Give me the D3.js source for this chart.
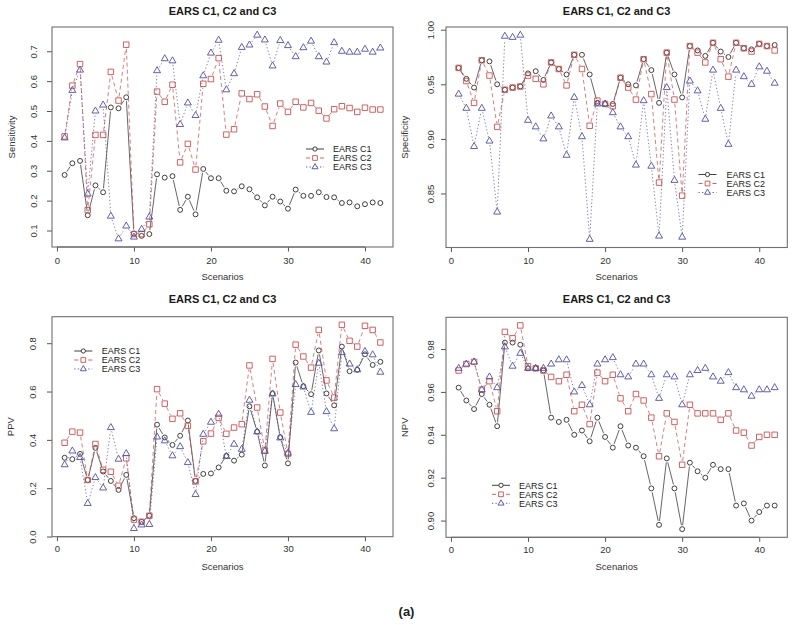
<!DOCTYPE html>
<html><head><meta charset="utf-8">
<script src="https://cdn.jsdelivr.net/npm/d3@7"></script>
<style>
html,body{margin:0;padding:0;background:#fff;}
text{font-family:"Liberation Sans",Arial,sans-serif;}
</style></head>
<body><svg id="c" width="794" height="625"></svg>
<script>
// ---- data ----
const scenarios = [1,2,3,4,5,6,7,8,9,10,11,12,13,14,15,16,17,18,19,20,21,22,23,24,25,26,27,28,29,30,31,32,33,34,35,36,37,38,39,40,41,42];
const seriesNames = ["EARS C1","EARS C2","EARS C3"];
const xTicks = [0,10,20,30,40];

const sensC1 = [0.286,0.325,0.333,0.151,0.251,0.228,0.512,0.509,0.546,0.090, 0.082,0.088,0.288,0.277,0.282,0.169,0.213,0.154,0.306,0.275, 0.275,0.233,0.231,0.248,0.238,0.211,0.184,0.213,0.197,0.173, 0.237,0.216,0.216,0.228,0.212,0.211,0.192,0.194,0.181,0.188,0.194,0.192];
const sensC2 = [0.415,0.585,0.657,0.168,0.420,0.420,0.631,0.535,0.722,0.088, 0.088,0.121,0.565,0.531,0.588,0.328,0.390,0.304,0.591,0.607, 0.677,0.421,0.439,0.559,0.540,0.556,0.515,0.450,0.525,0.497, 0.531,0.512,0.527,0.501,0.475,0.506,0.516,0.510,0.497,0.511,0.505,0.505];
const sensC3 = [0.410,0.569,0.637,0.222,0.500,0.520,0.148,0.072,0.115,0.078, 0.104,0.145,0.635,0.675,0.668,0.455,0.527,0.485,0.618,0.694, 0.737,0.571,0.625,0.713,0.721,0.754,0.738,0.651,0.736,0.719, 0.682,0.712,0.734,0.682,0.664,0.729,0.700,0.697,0.697,0.707,0.697,0.711];
const sensTicks = [0.1,0.2,0.3,0.4,0.5,0.6,0.7];
const sensTickLabels = ["0.1","0.2","0.3","0.4","0.5","0.6","0.7"];

const specC1 = [0.965,0.955,0.947,0.972,0.971,0.950,0.945,0.947,0.948,0.960, 0.962,0.954,0.970,0.964,0.959,0.977,0.977,0.959,0.933,0.932, 0.932,0.956,0.950,0.949,0.973,0.963,0.933,0.979,0.959,0.938, 0.985,0.981,0.976,0.988,0.980,0.975,0.988,0.983,0.982,0.987,0.985,0.986];
const specC2 = [0.965,0.953,0.933,0.972,0.958,0.911,0.945,0.947,0.948,0.958, 0.955,0.950,0.970,0.964,0.949,0.977,0.964,0.912,0.935,0.932, 0.930,0.956,0.947,0.936,0.973,0.941,0.860,0.979,0.936,0.848, 0.985,0.979,0.970,0.988,0.973,0.957,0.988,0.983,0.980,0.987,0.985,0.981];
const specC3 = [0.941,0.928,0.893,0.928,0.898,0.833,0.994,0.993,0.995,0.917, 0.911,0.900,0.921,0.911,0.885,0.938,0.902,0.808,0.932,0.932, 0.924,0.911,0.902,0.876,0.935,0.875,0.811,0.947,0.862,0.810, 0.953,0.944,0.918,0.963,0.928,0.895,0.963,0.957,0.950,0.966,0.962,0.951];
const specTicks = [0.85,0.90,0.95,1.00];
const specTickLabels = ["0.85","0.90","0.95","1.00"];

const ppvC1 = [0.326,0.320,0.342,0.234,0.367,0.269,0.230,0.193,0.255,0.076, 0.061,0.086,0.463,0.410,0.379,0.417,0.480,0.230,0.259,0.261, 0.286,0.334,0.314,0.339,0.539,0.434,0.294,0.592,0.411,0.303, 0.720,0.622,0.589,0.770,0.592,0.543,0.786,0.684,0.690,0.754,0.710,0.723];
const ppvC2 = [0.388,0.434,0.430,0.234,0.383,0.276,0.268,0.210,0.324,0.070, 0.061,0.086,0.610,0.550,0.487,0.510,0.458,0.228,0.394,0.426, 0.491,0.425,0.451,0.465,0.708,0.534,0.356,0.735,0.513,0.342, 0.794,0.745,0.699,0.855,0.646,0.575,0.876,0.810,0.786,0.872,0.855,0.803];
const ppvC3 = [0.297,0.354,0.327,0.137,0.244,0.201,0.451,0.320,0.343,0.033, 0.048,0.050,0.412,0.396,0.334,0.372,0.306,0.174,0.423,0.473, 0.506,0.331,0.382,0.361,0.564,0.433,0.353,0.590,0.408,0.345, 0.629,0.619,0.514,0.717,0.517,0.446,0.761,0.714,0.690,0.766,0.752,0.680];
const ppvTicks = [0.0,0.2,0.4,0.6,0.8];
const ppvTickLabels = ["0.0","0.2","0.4","0.6","0.8"];

const npvC1 = [0.962,0.956,0.952,0.959,0.954,0.944,0.983,0.983,0.982,0.971, 0.971,0.970,0.948,0.946,0.947,0.940,0.942,0.937,0.948,0.939, 0.934,0.944,0.935,0.934,0.930,0.915,0.898,0.929,0.915,0.896, 0.927,0.923,0.920,0.926,0.924,0.924,0.907,0.908,0.900,0.904,0.907,0.907];
const npvC2 = [0.970,0.973,0.974,0.961,0.965,0.951,0.988,0.985,0.991,0.972, 0.971,0.970,0.967,0.965,0.968,0.951,0.954,0.945,0.969,0.965, 0.968,0.957,0.951,0.959,0.956,0.948,0.930,0.950,0.946,0.926, 0.954,0.950,0.950,0.950,0.947,0.950,0.942,0.941,0.935,0.939,0.940,0.940];
const npvC3 = [0.971,0.973,0.974,0.961,0.967,0.962,0.981,0.972,0.978,0.971, 0.971,0.971,0.973,0.975,0.975,0.960,0.963,0.954,0.973,0.975, 0.976,0.968,0.967,0.973,0.973,0.968,0.957,0.968,0.967,0.954, 0.968,0.970,0.971,0.967,0.965,0.969,0.962,0.961,0.958,0.961,0.961,0.962];
const npvTicks = [0.90,0.92,0.94,0.96,0.98];
const npvTickLabels = ["0.90","0.92","0.94","0.96","0.98"];

// ---- styles / layout ----
const colors = ["#2b2b2b","#c9504f","#4f4f9f"];
const dashes = [null,"4,3","1.3,2.2"];
const symbols = [d3.symbolCircle, d3.symbolSquare, d3.symbolTriangle];
const symSizes = [19, 30, 21];

const panels = [
  {title:"EARS C1, C2 and C3", ylab:"Sensitivity", data:[sensC1,sensC2,sensC3], ticks:sensTicks, labels:sensTickLabels,
   x0:52, x1:393, y0:27, y1:247, titleY:15, xtY:263.5, xlY:279.5, ytX:37, ylX:14.5,
   leg:{mx:315, tx:333, ys:[149,158,167]}},
  {title:"EARS C1, C2 and C3", ylab:"Specificity", data:[specC1,specC2,specC3], ticks:specTicks, labels:specTickLabels,
   x0:446, x1:787.3, y0:27, y1:247.5, titleY:15, xtY:263.5, xlY:280, ytX:433.5, ylX:407.5,
   leg:{mx:707.5, tx:726.5, ys:[174.5,183.5,192.5]}},
  {title:"EARS C1, C2 and C3", ylab:"PPV", data:[ppvC1,ppvC2,ppvC3], ticks:ppvTicks, labels:ppvTickLabels,
   x0:52, x1:393, y0:316.7, y1:536.7, titleY:303, xtY:552.5, xlY:569.5, ytX:36, ylX:14,
   leg:{mx:83.3, tx:101.7, ys:[351,360,369]}},
  {title:"EARS C1, C2 and C3", ylab:"NPV", data:[npvC1,npvC2,npvC3], ticks:npvTicks, labels:npvTickLabels,
   x0:446, x1:787.3, y0:317.3, y1:537.3, titleY:303, xtY:552.7, xlY:570, ytX:433.5, ylX:408,
   leg:{mx:501, tx:519, ys:[485.3,494.3,503.3]}}
];

const svg = d3.select("#c");
svg.append("rect").attr("width",794).attr("height",625).attr("fill","#fff");

function ext4(arr){ const e = d3.extent(arr); const r = e[1]-e[0]; return [e[0]-0.04*r, e[1]+0.04*r]; }

const GAP = 4;
panels.forEach(p => {
  const g = svg.append("g");
  const xs = d3.scaleLinear().domain(ext4(scenarios)).range([p.x0, p.x1]);
  const ys = d3.scaleLinear().domain(ext4([].concat(...p.data))).range([p.y1, p.y0]);

  // title
  g.append("text").attr("x",(p.x0+p.x1)/2).attr("y",p.titleY).attr("text-anchor","middle")
    .attr("font-size",11).attr("font-weight","bold").attr("fill","#1a1a1a").text(p.title);

  // x axis
  const xa = g.append("g").attr("transform",`translate(0,${p.y1})`)
    .call(d3.axisBottom(xs).tickValues(xTicks).tickSize(4.5).tickSizeOuter(0).tickFormat(d3.format("d")));
  xa.select(".domain").remove();
  xa.selectAll("line").attr("stroke","#555");
  xa.selectAll("text").attr("font-size",9.5).attr("fill","#333").attr("dy",null).attr("y",p.xtY-p.y1).attr("font-family","Liberation Sans, Arial, sans-serif");
  g.append("line").attr("x1",xs(xTicks[0])).attr("x2",xs(xTicks[xTicks.length-1])).attr("y1",p.y1).attr("y2",p.y1).attr("stroke","#555");

  // y axis
  const ya = g.append("g").attr("transform",`translate(${p.x0},0)`)
    .call(d3.axisLeft(ys).tickValues(p.ticks).tickSize(5).tickSizeOuter(0).tickFormat((d,i)=>p.labels[i]));
  ya.select(".domain").remove();
  ya.selectAll("line").attr("stroke","#555");
  ya.selectAll("text").attr("font-size",9.5).attr("fill","#333").attr("text-anchor","middle")
    .attr("dy",null).attr("x",0).attr("y",-(p.x0-p.ytX)).attr("transform","rotate(-90)")
    .attr("font-family","Liberation Sans, Arial, sans-serif");

  // box
  g.append("rect").attr("x",p.x0).attr("y",p.y0).attr("width",p.x1-p.x0).attr("height",p.y1-p.y0)
    .attr("fill","none").attr("stroke","#6f6f6f").attr("stroke-width",1.1);

  // axis labels
  g.append("text").attr("x",(p.x0+p.x1)/2).attr("y",p.xlY).attr("text-anchor","middle")
    .attr("font-size",9.5).attr("fill","#333").text("Scenarios");
  g.append("text").attr("transform",`translate(${p.ylX},${(p.y0+p.y1)/2}) rotate(-90)`).attr("text-anchor","middle")
    .attr("font-size",9.5).attr("fill","#333").text(p.ylab);

  // series (type = "b": lines with gaps at points)
  p.data.forEach((vals, si) => {
    const pts = scenarios.map((s,i)=>[xs(s), ys(vals[i])]);
    const segs = [];
    for (let i=0;i<pts.length-1;i++){
      const [ax,ay]=pts[i],[bx,by]=pts[i+1];
      const L = Math.hypot(bx-ax,by-ay);
      if (L > 2*GAP+0.5){
        const ux=(bx-ax)/L, uy=(by-ay)/L;
        segs.push([ax+ux*GAP, ay+uy*GAP, bx-ux*GAP, by-uy*GAP]);
      }
    }
    g.append("g").selectAll("line").data(segs).join("line")
      .attr("x1",d=>d[0]).attr("y1",d=>d[1]).attr("x2",d=>d[2]).attr("y2",d=>d[3])
      .attr("stroke",colors[si]).attr("stroke-width",0.9).attr("stroke-dasharray",dashes[si]).attr("opacity",0.8);
    const sym = d3.symbol().type(symbols[si]).size(symSizes[si]);
    g.append("g").selectAll("path").data(pts).join("path")
      .attr("transform",d=>`translate(${d[0]},${d[1]})`).attr("d",sym())
      .attr("fill","none").attr("stroke",colors[si]).attr("stroke-width",0.9);
  });

  // legend
  seriesNames.forEach((nm,si)=>{
    const yy = p.leg.ys[si];
    g.append("line").attr("x1",p.leg.mx-9).attr("x2",p.leg.mx+9).attr("y1",yy).attr("y2",yy)
      .attr("stroke",colors[si]).attr("stroke-width",0.9).attr("stroke-dasharray",dashes[si]);
    g.append("path").attr("transform",`translate(${p.leg.mx},${yy})`)
      .attr("d",d3.symbol().type(symbols[si]).size(symSizes[si]*0.75)())
      .attr("fill","#fff").attr("stroke",colors[si]).attr("stroke-width",0.9);
    g.append("text").attr("x",p.leg.tx).attr("y",yy+3.2).attr("font-size",9).attr("fill","#222").text(nm);
  });
});

svg.append("text").attr("x",406.5).attr("y",616).attr("text-anchor","middle")
  .attr("font-family","Liberation Serif, Times New Roman, serif").attr("font-size",13).attr("font-weight","bold")
  .attr("fill","#222").text("(a)");
</script>
</body></html>
